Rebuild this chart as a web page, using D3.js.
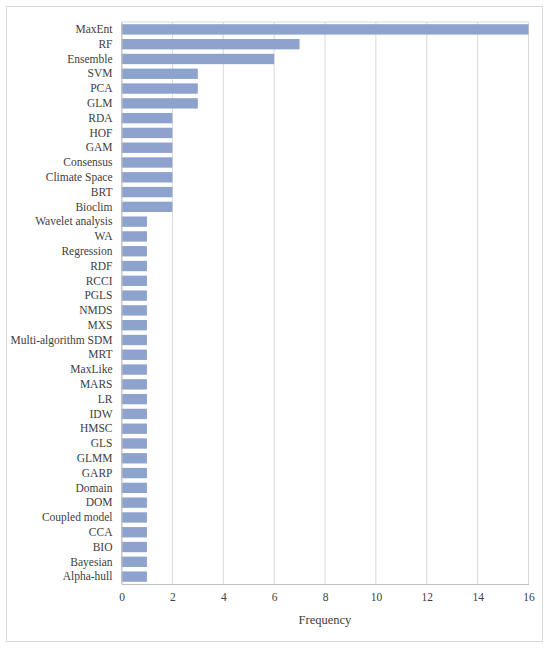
<!DOCTYPE html>
<html>
<head>
<meta charset="utf-8">
<script src="https://cdn.jsdelivr.net/npm/d3@7"></script>
<style>
  body { margin: 0; background: #fff; }
  svg text { font-family: "Liberation Serif", "Times New Roman", serif; fill: #404040; }
</style>
</head>
<body>
<div id="chart"></div>
<script>
var methods = ["MaxEnt", "RF", "Ensemble", "SVM", "PCA", "GLM", "RDA", "HOF", "GAM",
  "Consensus", "Climate Space", "BRT", "Bioclim", "Wavelet analysis", "WA", "Regression",
  "RDF", "RCCI", "PGLS", "NMDS", "MXS", "Multi-algorithm SDM", "MRT", "MaxLike", "MARS",
  "LR", "IDW", "HMSC", "GLS", "GLMM", "GARP", "Domain", "DOM", "Coupled model", "CCA",
  "BIO", "Bayesian", "Alpha-hull"];
var frequency = [16, 7, 6, 3, 3, 3, 2, 2, 2, 2, 2, 2, 2, 1, 1, 1, 1, 1, 1, 1, 1, 1, 1,
  1, 1, 1, 1, 1, 1, 1, 1, 1, 1, 1, 1, 1, 1, 1];
var xTicks = [0, 2, 4, 6, 8, 10, 12, 14, 16];

var width = 550, height = 648;
var plotLeft = 121.5, plotRight = 528.5, plotTop = 22, plotBottom = 584;

var svg = d3.select("#chart").append("svg")
    .attr("width", width)
    .attr("height", height);

// outer frame
svg.append("rect")
    .attr("x", 6.5).attr("y", 6.5)
    .attr("width", 536).attr("height", 635)
    .attr("fill", "#fff")
    .attr("stroke", "#d9d9d9");

var x = d3.scaleLinear().domain([0, 16]).range([plotLeft, plotRight]);
var y = d3.scaleBand().domain(methods).range([plotTop, plotBottom]).paddingInner(0.3).paddingOuter(0.15);

// gridlines
svg.append("g").selectAll("line")
    .data(xTicks)
    .enter().append("line")
    .attr("x1", function (d) { return x(d); })
    .attr("x2", function (d) { return x(d); })
    .attr("y1", plotTop).attr("y2", plotBottom)
    .attr("stroke", "#d9d9d9");

svg.append("line")
    .attr("x1", plotLeft).attr("x2", plotRight)
    .attr("y1", plotTop).attr("y2", plotTop)
    .attr("stroke", "#d9d9d9");

// bars
svg.append("g").selectAll("rect")
    .data(methods)
    .enter().append("rect")
    .attr("x", x(0))
    .attr("y", function (d) { return y(d); })
    .attr("width", function (d, i) { return x(frequency[i]) - x(0); })
    .attr("height", y.bandwidth())
    .attr("fill", "#8ea2ce");

// y axis
var yAxis = svg.append("g")
    .attr("transform", "translate(" + plotLeft + ",0)")
    .call(d3.axisLeft(y).tickSize(0).tickPadding(9));
yAxis.select(".domain").attr("stroke", "#bfbfbf");
yAxis.selectAll("text").style("font-size", "11.5px");

// x axis
var xAxis = svg.append("g")
    .attr("transform", "translate(0," + plotBottom + ")")
    .call(d3.axisBottom(x).tickValues(xTicks).tickSize(0).tickPadding(9));
xAxis.select(".domain").attr("stroke", "#bfbfbf");
xAxis.selectAll("text").style("font-size", "11.5px");

svg.append("text")
    .attr("x", (plotLeft + plotRight) / 2)
    .attr("y", 624)
    .attr("text-anchor", "middle")
    .style("font-size", "12.5px")
    .text("Frequency");
</script>
</body>
</html>
